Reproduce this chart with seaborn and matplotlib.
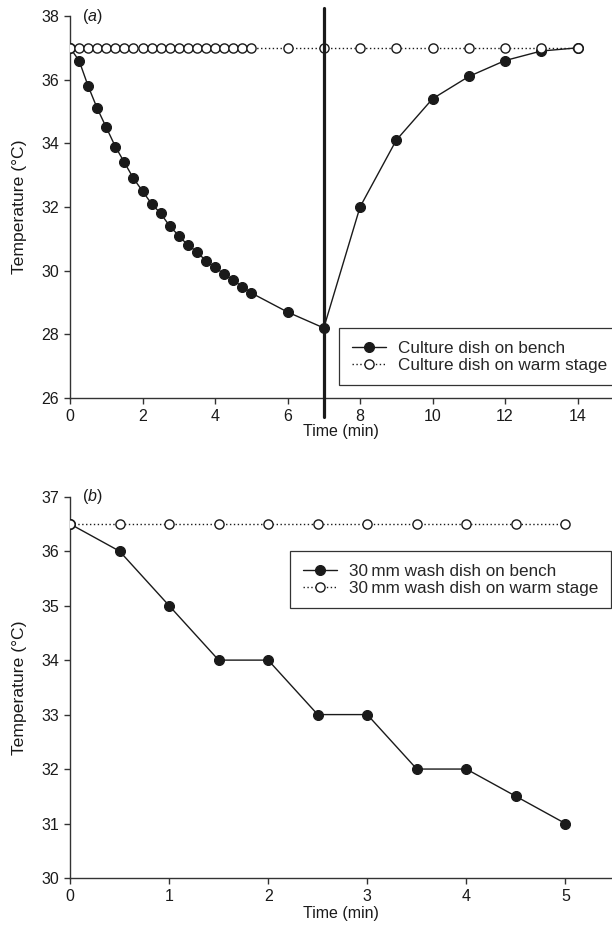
import matplotlib
matplotlib.use("Agg")
import matplotlib.pyplot as plt
import seaborn as sns

# panel (a): culture dish, readings every 15 s for 5 min, then every minute
time_a = [0, 0.25, 0.5, 0.75, 1.0, 1.25, 1.5, 1.75, 2.0, 2.25, 2.5, 2.75, 3.0,
          3.25, 3.5, 3.75, 4.0, 4.25, 4.5, 4.75, 5.0,
          6, 7, 8, 9, 10, 11, 12, 13, 14]
bench_a = [37.0, 36.6, 35.8, 35.1, 34.5, 33.9, 33.4, 32.9, 32.5, 32.1, 31.8, 31.4, 31.1,
           30.8, 30.6, 30.3, 30.1, 29.9, 29.7, 29.5, 29.3,
           28.7, 28.2, 32.0, 34.1, 35.4, 36.1, 36.6, 36.9, 37.0]
warm_a = [37.0] * len(time_a)
transfer_time = 7

# panel (b): 30 mm wash dish
time_b = [0, 0.5, 1.0, 1.5, 2.0, 2.5, 3.0, 3.5, 4.0, 4.5, 5.0]
bench_b = [36.5, 36.0, 35.0, 34.0, 34.0, 33.0, 33.0, 32.0, 32.0, 31.5, 31.0]
warm_b = [36.5] * len(time_b)

labels_a = ["Culture dish on bench", "Culture dish on warm stage"]
labels_b = ["30\u2009mm wash dish on bench", "30\u2009mm wash dish on warm stage"]

sns.set_style("ticks")
plt.rcParams["font.family"] = ["Liberation Sans", "DejaVu Sans"]
plt.rcParams["mathtext.fontset"] = "custom"
plt.rcParams["mathtext.it"] = "Liberation Sans:italic"
plt.rcParams["font.size"] = 11.5

ink = "#1a1a1a"
axis_col = "#333333"

fig = plt.figure(figsize=(6.12, 9.34), dpi=100)
W, H = 612, 934
ax_a = fig.add_axes([70 / W, 1 - 398 / H, 542 / W, 382 / H])
ax_b = fig.add_axes([70 / W, 1 - 878 / H, 542 / W, 381.3 / H])


def draw_panel(ax, t, bench, warm, labels):
    sns.lineplot(x=t, y=bench, ax=ax, color=ink, lw=1.0, marker="o", ms=7.2,
                 mfc=ink, mec=ink, label=labels[0], zorder=3)
    sns.lineplot(x=t, y=warm, ax=ax, color=ink, lw=1.0, ls=(0, (1, 1.8)), marker="o",
                 ms=6.6, mfc="white", mec=ink, mew=1.0, label=labels[1], zorder=4)
    for s in ["top", "right"]:
        ax.spines[s].set_visible(False)
    for s in ["left", "bottom"]:
        ax.spines[s].set_color(axis_col)
        ax.spines[s].set_linewidth(1.0)
    ax.tick_params(direction="out", length=4, width=1.0, color=axis_col,
                   labelcolor=ink, labelsize=11.5, pad=4)
    ax.set_xlabel("Time (min)", fontsize=11.5, color=ink)
    ax.set_ylabel("Temperature (\u00b0C)", fontsize=12.6, color=ink)
    ax.yaxis.set_label_coords(-0.079, 0.5)


def add_legend(ax, corner):
    ax.legend(loc="upper left", bbox_to_anchor=corner,
              bbox_transform=fig.transFigure, fancybox=False, framealpha=1,
              edgecolor=axis_col, fontsize=12.3, handlelength=2.0,
              handletextpad=0.7, borderpad=0.75, labelspacing=0.1,
              borderaxespad=0).get_frame().set_linewidth(0.9)


# (a)
draw_panel(ax_a, time_a, bench_a, warm_a, labels_a)
ax_a.set_xlim(0, 14.95)
ax_a.set_ylim(26, 38)
ax_a.set_xticks(range(0, 15, 2))
ax_a.set_yticks(range(26, 39, 2))
ax_a.xaxis.set_label_coords(0.5, -0.068)
ax_a.axvline(transfer_time, ymin=-0.05, ymax=1.02, color=ink, lw=2.3,
             clip_on=False, zorder=5)
ax_a.text(0.022, 1.0, r"($\it{a}$)", transform=ax_a.transAxes, va="center",
          ha="left", fontsize=11.5, color=ink)
add_legend(ax_a, (339 / W, 1 - 328 / H))

# (b)
draw_panel(ax_b, time_b, bench_b, warm_b, labels_b)
ax_b.set_xlim(0, 5.47)
ax_b.set_ylim(30, 37)
ax_b.set_xticks(range(0, 6))
ax_b.set_yticks(range(30, 38))
ax_b.xaxis.set_label_coords(0.5, -0.074)
ax_b.text(0.022, 1.0, r"($\it{b}$)", transform=ax_b.transAxes, va="center",
          ha="left", fontsize=11.5, color=ink)
add_legend(ax_b, (290 / W, 1 - 551 / H))

fig.savefig("out.png", dpi=100)
